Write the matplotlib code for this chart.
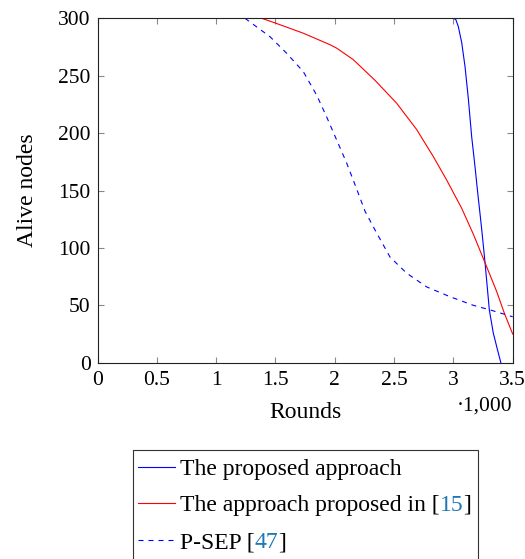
import matplotlib
matplotlib.use('Agg')
import matplotlib.pyplot as plt
from matplotlib.ticker import FuncFormatter
from matplotlib.patches import Rectangle

#----------------------------------------------------#
# date
x_proposed = [2985, 3000, 3020, 3041, 3070, 3098, 3126, 3154, 3182, 3202, 3239, 3267, 3303, 3336, 3370, 3400]
y_proposed = [300.5, 300, 299, 293, 279, 258, 230, 197, 171, 151, 116, 87, 46, 26, 12, 0]

x_ref15 = [1398, 1496, 1735, 1960, 2016, 2156, 2339, 2522, 2691, 2831, 2944, 3070, 3168, 3267, 3365, 3430, 3500]
y_ref15 = [299.5, 296, 287, 277, 274, 264, 246, 226, 203, 179.5, 159, 134.5, 112, 87, 62, 43, 25]

x_psep = [1243, 1454, 1595, 1735, 1848, 1932, 2016, 2100, 2171, 2255, 2353, 2466, 2606, 2775, 2971, 3168, 3309, 3500]
y_psep = [300, 284, 269.5, 253.5, 233, 214, 194, 174, 155, 132, 113, 92, 78, 66, 57.5, 50, 46, 40]

labels = ['The proposed approach', 'The approach proposed in [', 'P-SEP [']
refs = ['', '15', '47']
xticks = [0, 500, 1000, 1500, 2000, 2500, 3000, 3500]
yticks = [0, 50, 100, 150, 200, 250, 300]
#----------------------------------------------------#

plt.rcParams['font.family'] = ['Liberation Serif', 'DejaVu Serif']
FS_TICK = 15.5
FS_TXT = 17

W, H = 525, 559
fig = plt.figure(figsize=(W / 100, H / 100), dpi=100)
ax = fig.add_axes([97.5 / W, 1 - 362.7 / H, (512.7 - 97.5) / W, (362.7 - 18.3) / H])

ax.plot(x_proposed, y_proposed, color='blue', lw=0.8, clip_on=True)
ax.plot(x_ref15, y_ref15, color='red', lw=0.8)
l3, = ax.plot(x_psep, y_psep, color='blue', lw=0.8)
l3.set_dashes((4.5, 4.5))

ax.set_xlim(0, 3500)
ax.set_ylim(0, 300)
ax.set_xticks(xticks)
ax.set_yticks(yticks)
ax.xaxis.set_major_formatter(FuncFormatter(lambda v, p: '{:g}'.format(v / 1000)))
ax.tick_params(direction='in', length=4, color='#888888', top=True, right=True,
               labelsize=FS_TICK)
ax.tick_params(axis='x', pad=6)
ax.tick_params(axis='y', pad=5)
for s in ax.spines.values():
    s.set_linewidth(0.8)
    s.set_color('#222222')

ax.set_xlabel('Rounds', fontsize=FS_TXT)
ax.set_ylabel('Alive nodes', fontsize=FS_TXT)
ax.xaxis.set_label_coords(0.5, -0.114)
ax.yaxis.set_label_coords(-0.144, 0.5)
ax.text(1.0, -0.125, '\u00b71,000', transform=ax.transAxes, ha='right', va='center', fontsize=FS_TICK)

# legenda desenata manual (coordonate in pixeli)
lg = fig.add_axes([0, 0, 1, 1])
lg.set_xlim(0, W)
lg.set_ylim(H, 0)
lg.axis('off')
lg.add_patch(Rectangle((133, 450), 345, 130, fill=False, edgecolor='#333333', lw=0.8))
rows = [467, 503, 540]
colors = ['blue', 'red', 'blue']
fig.canvas.draw()
r = fig.canvas.get_renderer()
for i in range(3):
    ln, = lg.plot([138, 175], [rows[i], rows[i]], color=colors[i], lw=0.8)
    if i == 2:
        ln.set_dashes((4.5, 4.5))
    t = lg.text(180, rows[i], labels[i], fontsize=FS_TXT, va='center_baseline')
    if refs[i]:
        bb = t.get_window_extent(renderer=r)
        t2 = lg.text(bb.x1, rows[i], refs[i], fontsize=FS_TXT, va='center_baseline', color='#1f77b4')
        bb2 = t2.get_window_extent(renderer=r)
        lg.text(bb2.x1, rows[i], ']', fontsize=FS_TXT, va='center_baseline')

fig.savefig('out.png', dpi=100)
